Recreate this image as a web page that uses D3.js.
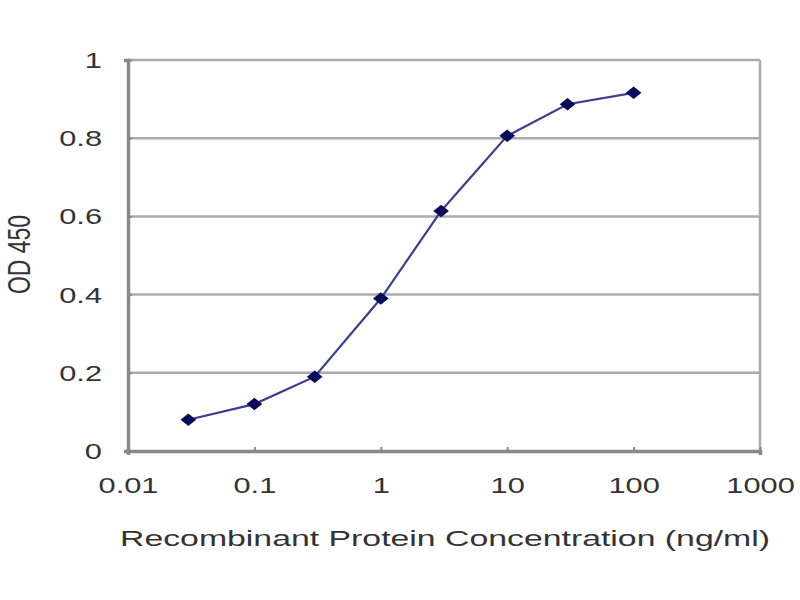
<!DOCTYPE html>
<html>
<head>
<meta charset="utf-8">
<script src="https://cdn.jsdelivr.net/npm/d3@7"></script>
<style>
  body { margin: 0; background: #fff; }
  text { font-family: "Liberation Sans", Arial, sans-serif; fill: #333; }
</style>
</head>
<body>
<div id="chart"></div>
<script>
// data
const concentrations = [0.03, 0.1, 0.3, 1, 3, 10, 30, 100];
const odValues = [0.08, 0.12, 0.19, 0.39, 0.614, 0.806, 0.887, 0.916];
const xTicks = [0.01, 0.1, 1, 10, 100, 1000];
const xTickLabels = ["0.01", "0.1", "1", "10", "100", "1000"];
const yTicks = [0, 0.2, 0.4, 0.6, 0.8, 1];
const yTickLabels = ["0", "0.2", "0.4", "0.6", "0.8", "1"];

// the original picture is stretched sideways, so text gets widened too
const stretch = 1.4;

// canvas
const margins = { top: 60, right: 40, bottom: 149, left: 128 };
const width = 800 - margins.left - margins.right;
const height = 600 - margins.top - margins.bottom;

const svg = d3.select("#chart").append("svg")
    .attr("width", 800)
    .attr("height", 600)
    .append("g")
    .attr("transform", "translate(" + margins.left + ", " + margins.top + ")");

// scales
const xScale = d3.scaleLog()
    .domain([0.01, 1000])
    .range([0, width]);

const yScale = d3.scaleLinear()
    .domain([0, 1])
    .range([height, 0]);

// grid lines
svg.append("g")
    .selectAll("line")
    .data(yTicks.slice(1))
    .enter()
    .append("line")
    .attr("x1", 0)
    .attr("x2", width)
    .attr("y1", d => yScale(d))
    .attr("y2", d => yScale(d))
    .attr("stroke", "#ababab")
    .attr("stroke-width", 2.5);

// right border
svg.append("line")
    .attr("x1", width).attr("x2", width)
    .attr("y1", 0).attr("y2", height)
    .attr("stroke", "#ababab")
    .attr("stroke-width", 2.5);

// axes
const xAxis = svg.append("g")
    .attr("transform", "translate(0, " + height + ")")
    .call(d3.axisBottom(xScale)
        .tickValues(xTicks)
        .tickFormat((d, i) => xTickLabels[i])
        .tickSize(4)
        .tickPadding(22));

const yAxis = svg.append("g")
    .call(d3.axisLeft(yScale)
        .tickValues(yTicks)
        .tickFormat((d, i) => yTickLabels[i])
        .tickSize(4)
        .tickPadding(22));

[xAxis, yAxis].forEach(ax => {
    ax.select(".domain").attr("stroke", "#888").attr("stroke-width", 3.5);
    ax.selectAll(".tick line").attr("stroke", "#888").attr("stroke-width", 2);
    ax.selectAll(".tick text")
        .style("font-size", "22px")
        .style("fill", "#333");
});
xAxis.selectAll(".tick line").attr("transform", "translate(0,-4)");
yAxis.selectAll(".tick line").attr("transform", "translate(4,0)");

// widen tick labels around their anchor point
xAxis.selectAll(".tick text")
    .attr("transform", "scale(" + stretch + ",1)");
yAxis.selectAll(".tick text")
    .attr("x", 0)
    .attr("dy", "0.34em")
    .attr("transform", "translate(-26,0) scale(" + stretch + ",1)");

// axis titles
svg.append("text")
    .attr("x", -8)
    .attr("y", height + 95)
    .attr("textLength", 650)
    .attr("lengthAdjust", "spacingAndGlyphs")
    .style("font-size", "22px")
    .text("Recombinant Protein Concentration (ng/ml)");

svg.append("text")
    .attr("transform", "translate(" + (-109) + "," + (height / 2 - 1) + ") scale(" + stretch + ",1) rotate(-90)")
    .attr("dy", "0.35em")
    .style("text-anchor", "middle")
    .style("font-size", "23px")
    .text("OD 450");

// line + markers
const line = d3.line()
    .x((d, i) => xScale(concentrations[i]))
    .y(d => yScale(d));

svg.append("path")
    .datum(odValues)
    .attr("d", line)
    .attr("fill", "none")
    .attr("stroke", "#3d3d92")
    .attr("stroke-width", 2.2);

svg.selectAll(".marker")
    .data(odValues)
    .enter()
    .append("path")
    .attr("class", "marker")
    .attr("d", d3.symbol().type(d3.symbolDiamond2).size(100))
    .attr("transform", (d, i) => "translate(" + xScale(concentrations[i]) + "," + yScale(d) + ") scale(1.25,1)")
    .attr("fill", "#0a0a5a");
</script>
</body>
</html>
